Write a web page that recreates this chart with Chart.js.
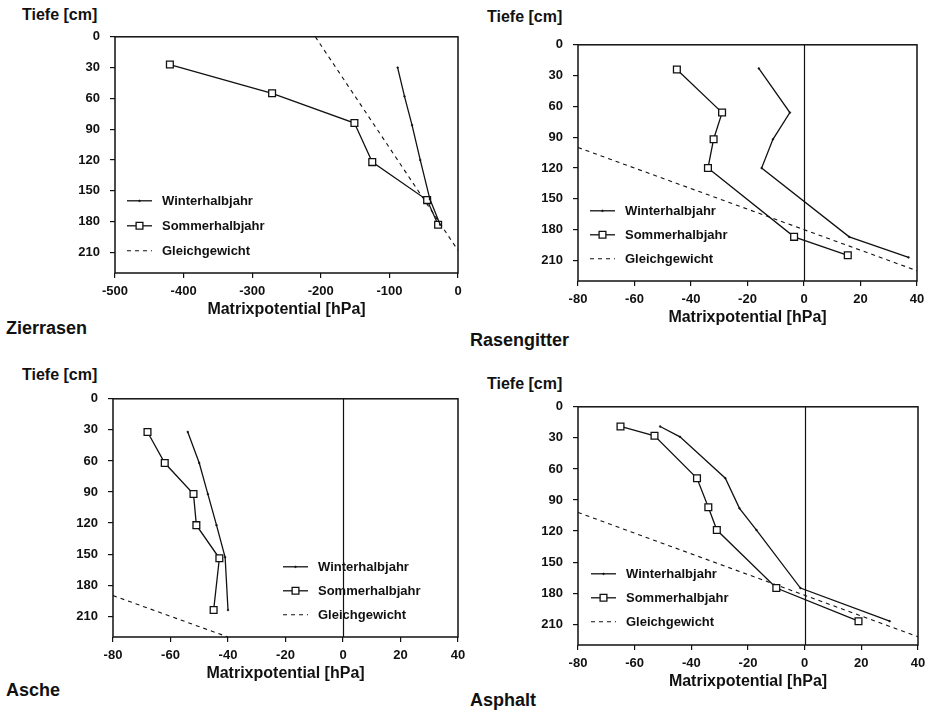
<!DOCTYPE html>
<html>
<head>
<meta charset="utf-8">
<script src="https://cdn.jsdelivr.net/npm/chart.js@4/dist/chart.umd.min.js"></script>
<style>
  html, body { margin: 0; padding: 0; background: #fff; }
  body { width: 935px; height: 714px; position: relative; overflow: hidden;
         font-family: 'Liberation Sans', Arial, Helvetica, sans-serif; color: #111; }
  canvas { position: absolute; }
  .lbl { position: absolute; font-weight: bold; white-space: nowrap; line-height: 1; color: #111; }
  .axisname { font-size: 16px; }
  .site { font-size: 18px; }
</style>
</head>
<body>
<div class="lbl axisname" style="left:22px;top:7px;">Tiefe [cm]</div>
<div class="lbl axisname" style="left:487px;top:9px;">Tiefe [cm]</div>
<div class="lbl axisname" style="left:22px;top:367px;">Tiefe [cm]</div>
<div class="lbl axisname" style="left:487px;top:376px;">Tiefe [cm]</div>
<div class="lbl site" style="left:6px;top:319px;">Zierrasen</div>
<div class="lbl site" style="left:470px;top:331px;">Rasengitter</div>
<div class="lbl site" style="left:6px;top:681px;">Asche</div>
<div class="lbl site" style="left:470px;top:691px;">Asphalt</div>

<script>
// Axis ticks
const depthTicks = [0, 30, 60, 90, 120, 150, 180, 210];
const potTicksWide = [-500, -400, -300, -200, -100, 0];
const potTicksNarrow = [-80, -60, -40, -20, 0, 20, 40];

// Zierrasen
const zierWinterDepth = [30, 58, 86, 120, 158, 183];
const zierWinterPot   = [-88, -78, -67, -55, -41, -26];
const zierSommerDepth = [27, 55, 84, 122, 159, 183];
const zierSommerPot   = [-420, -271, -151, -125, -45, -29];
const zierGleichDepth = [0, 208];
const zierGleichPot   = [-208, 0];

// Rasengitter
const rasenWinterDepth = [23, 66, 92, 120, 187, 207];
const rasenWinterPot   = [-16, -5, -11, -15, 16, 37];
const rasenSommerDepth = [24, 66, 92, 120, 187, 205];
const rasenSommerPot   = [-45, -29, -32, -34, -3.5, 15.5];
const rasenGleichDepth = [100, 220];
const rasenGleichPot   = [-80, 40];

// Asche
const ascheWinterDepth = [32, 62, 92, 122, 153, 204];
const ascheWinterPot   = [-54, -50, -47, -44, -41, -40];
const ascheSommerDepth = [32, 62, 92, 122, 154, 204];
const ascheSommerPot   = [-68, -62, -52, -51, -43, -45];
const ascheGleichDepth = [190, 230];
const ascheGleichPot   = [-80, -40];

// Asphalt
const asphWinterDepth = [19, 29, 69, 98, 119, 175, 207];
const asphWinterPot   = [-51, -44, -28, -23, -17, -1.5, 30];
const asphSommerDepth = [19, 28, 69, 97, 119, 175, 207];
const asphSommerPot   = [-65, -53, -38, -34, -31, -10, 19];
const asphGleichDepth = [102, 222];
const asphGleichPot   = [-80, 40];

const seriesNames = ['Winterhalbjahr', 'Sommerhalbjahr', 'Gleichgewicht'];

const INK = '#111';
const FONT = "'Liberation Sans', Arial, Helvetica, sans-serif";

function pairs(pot, depth) {
  return pot.map((p, i) => ({ x: p, y: depth[i] }));
}

// Frame, zero line and in-plot legend
const panelDecor = {
  id: 'panelDecor',
  beforeDatasetsDraw(chart, args, opts) {
    const { ctx, chartArea: a, scales } = chart;
    if (opts.zeroLine) {
      const x0 = Math.round(scales.x.getPixelForValue(0)) + 0.5;
      ctx.save();
      ctx.strokeStyle = INK;
      ctx.lineWidth = 1.2;
      ctx.beginPath();
      ctx.moveTo(x0, a.top);
      ctx.lineTo(x0, a.bottom);
      ctx.stroke();
      ctx.restore();
    }
  },
  afterDatasetsDraw(chart, args, opts) {
    const { ctx, chartArea: a } = chart;
    ctx.save();
    ctx.strokeStyle = INK;
    ctx.lineWidth = 1.5;
    ctx.strokeRect(a.left, a.top, a.right - a.left, a.bottom - a.top);

    const lg = opts.legend;
    ctx.font = 'bold 13px ' + FONT;
    ctx.textBaseline = 'middle';
    chart.data.datasets.forEach((ds, i) => {
      const x1 = a.left + lg.dx;
      const x2 = x1 + 25;
      const xm = (x1 + x2) / 2;
      const y = a.top + lg.dy + i * lg.gap;
      ctx.save();
      ctx.strokeStyle = INK;
      ctx.lineWidth = ds.borderWidth;
      ctx.setLineDash(ds.borderDash || []);
      ctx.beginPath();
      ctx.moveTo(x1, y);
      ctx.lineTo(x2, y);
      ctx.stroke();
      ctx.restore();
      if (ds.pointRadius > 0) {
        ctx.save();
        ctx.fillStyle = ds.pointBackgroundColor;
        ctx.strokeStyle = INK;
        ctx.lineWidth = ds.pointBorderWidth || 1;
        ctx.beginPath();
        const r = ds.pointRadius;
        if (ds.pointStyle === 'rect') {
          const s = Math.SQRT1_2 * r;
          ctx.rect(xm - s, y - s, 2 * s, 2 * s);
        } else {
          ctx.arc(xm, y, r, 0, Math.PI * 2);
        }
        ctx.fill();
        ctx.stroke();
        ctx.restore();
      }
      ctx.fillStyle = INK;
      ctx.fillText(ds.label, x2 + 10, y + 1);
    });
    ctx.restore();
  }
};

function buildPanel(p) {
  const padL = 60, padT = 12, padR = 24, padB = 52;
  const W = p.box.right - p.box.left;
  const H = p.box.bottom - p.box.top;
  const canvas = document.createElement('canvas');
  canvas.width = W + padL + padR;
  canvas.height = H + padT + padB;
  canvas.style.left = (p.box.left - padL) + 'px';
  canvas.style.top = (p.box.top - padT) + 'px';
  canvas.style.width = canvas.width + 'px';
  canvas.style.height = canvas.height + 'px';
  document.body.appendChild(canvas);

  const tickFont = { family: FONT, size: 13, weight: 'bold' };
  const gridOpts = { drawOnChartArea: false, drawTicks: true, tickLength: 5, color: INK, lineWidth: 1.2 };

  new Chart(canvas, {
    type: 'scatter',
    data: {
      datasets: [
        {
          label: seriesNames[0],
          data: pairs(p.winterPot, p.winterDepth),
          showLine: true,
          borderColor: INK,
          borderWidth: 1.3,
          pointStyle: 'circle',
          pointRadius: 0.9,
          pointBackgroundColor: INK,
          pointBorderColor: INK,
          pointBorderWidth: 0.5
        },
        {
          label: seriesNames[1],
          data: pairs(p.sommerPot, p.sommerDepth),
          showLine: true,
          borderColor: INK,
          borderWidth: 1.3,
          pointStyle: 'rect',
          pointRadius: 4.8,
          pointBackgroundColor: '#fff',
          pointBorderColor: INK,
          pointBorderWidth: 1.3
        },
        {
          label: seriesNames[2],
          data: pairs(p.gleichPot, p.gleichDepth),
          showLine: true,
          borderColor: INK,
          borderWidth: 1.1,
          borderDash: [4, 4],
          pointRadius: 0
        }
      ]
    },
    options: {
      responsive: false,
      animation: false,
      devicePixelRatio: 1,
      layout: { padding: { left: 0, top: padT, right: padR, bottom: 0 } },
      plugins: {
        legend: { display: false },
        tooltip: { enabled: false },
        panelDecor: { zeroLine: p.zeroLine, legend: p.legend }
      },
      scales: {
        x: {
          type: 'linear',
          position: 'bottom',
          min: p.xTicks[0],
          max: p.xTicks[p.xTicks.length - 1],
          afterBuildTicks: s => { s.ticks = p.xTicks.map(v => ({ value: v })); },
          afterFit: s => { s.height = padB; },
          ticks: { font: tickFont, color: INK, padding: 6, maxRotation: 0, autoSkip: false,
                   callback: v => String(v) },
          grid: gridOpts,
          border: { display: false },
          title: { display: true, text: 'Matrixpotential [hPa]', color: INK,
                   font: { family: FONT, size: 16, weight: 'bold' },
                   padding: { top: 0, bottom: 6 } }
        },
        y: {
          type: 'linear',
          reverse: true,
          min: 0,
          max: 230,
          afterBuildTicks: s => { s.ticks = depthTicks.map(v => ({ value: v })); },
          afterFit: s => { s.width = padL; },
          ticks: { font: tickFont, color: INK, padding: 10, autoSkip: false },
          grid: gridOpts,
          border: { display: false }
        }
      }
    },
    plugins: [panelDecor]
  });
}

buildPanel({
  box: { left: 115, top: 31, right: 458, bottom: 273 },
  xTicks: potTicksWide, zeroLine: false,
  winterPot: zierWinterPot, winterDepth: zierWinterDepth,
  sommerPot: zierSommerPot, sommerDepth: zierSommerDepth,
  gleichPot: zierGleichPot, gleichDepth: zierGleichDepth,
  legend: { dx: 12, dy: 164, gap: 25 }
});
buildPanel({
  box: { left: 578, top: 39, right: 917, bottom: 281 },
  xTicks: potTicksNarrow, zeroLine: true,
  winterPot: rasenWinterPot, winterDepth: rasenWinterDepth,
  sommerPot: rasenSommerPot, sommerDepth: rasenSommerDepth,
  gleichPot: rasenGleichPot, gleichDepth: rasenGleichDepth,
  legend: { dx: 12, dy: 166, gap: 24 }
});
buildPanel({
  box: { left: 113, top: 393, right: 458, bottom: 637 },
  xTicks: potTicksNarrow, zeroLine: true,
  winterPot: ascheWinterPot, winterDepth: ascheWinterDepth,
  sommerPot: ascheSommerPot, sommerDepth: ascheSommerDepth,
  gleichPot: ascheGleichPot, gleichDepth: ascheGleichDepth,
  legend: { dx: 170, dy: 168, gap: 24 }
});
buildPanel({
  box: { left: 578, top: 401, right: 918, bottom: 645 },
  xTicks: potTicksNarrow, zeroLine: true,
  winterPot: asphWinterPot, winterDepth: asphWinterDepth,
  sommerPot: asphSommerPot, sommerDepth: asphSommerDepth,
  gleichPot: asphGleichPot, gleichDepth: asphGleichDepth,
  legend: { dx: 13, dy: 167, gap: 24 }
});
</script>
</body>
</html>
